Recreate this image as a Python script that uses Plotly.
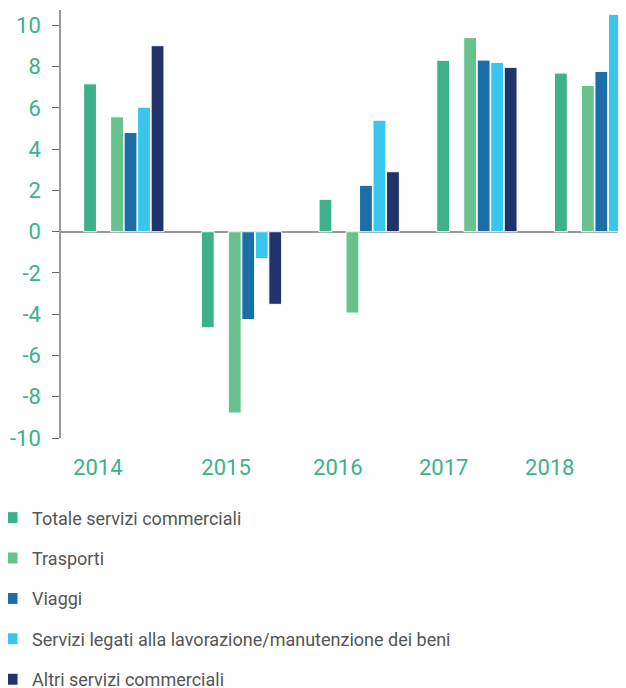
import plotly.graph_objects as go

years = [2014, 2015, 2016, 2017, 2018]
year_labels = ["2014", "2015", "2016", "2017", "2018"]

totale = [7.17, -4.66, 1.57, 8.31, 7.69]
trasporti = [5.57, -8.79, -3.94, 9.41, 7.09]
viaggi = [4.81, -4.26, 2.25, 8.32, 7.77]
servizi_beni = [6.04, -1.31, 5.41, 8.21, 10.54]
altri = [9.02, -3.52, 2.91, 7.97, 7.68]
vuoto = [None, None, None, None, None]

y_ticks = [-10, -8, -6, -4, -2, 0, 2, 4, 6, 8, 10]

# style / layout settings (page body has an 8px margin)
label_offsets = [-0.221, -0.131, -0.182, -0.282, -0.381]
TEAL = "#3db08c"
series = [
    ("Totale servizi commerciali", totale, "#3db08c", True),
    ("vuoto", vuoto, "#ffffff", False),
    ("Trasporti", trasporti, "#67c28d", True),
    ("Viaggi", viaggi, "#1c6ea8", True),
    ("Servizi legati alla lavorazione/manutenzione dei beni", servizi_beni, "#38c5ee", True),
    ("Altri servizi commerciali", altri, "#21336b", True),
]

fig = go.Figure()
for i, (name, vals, col, show) in enumerate(series):
    fig.add_trace(go.Bar(
        x=years, y=vals, name=name, showlegend=show, legendgroup="g%d" % i,
        marker=dict(color=col, line=dict(color="#ffffff", width=1)),
    ))

fig.update_layout(
    width=640, height=700,
    margin=dict(l=53, r=0, t=2, b=270, autoexpand=False),
    paper_bgcolor="white", plot_bgcolor="white",
    barmode="group", bargap=0.312, bargroupgap=0.05,
    font=dict(family="Roboto", color="#555555"),
    xaxis=dict(
        type="linear", range=[2013.4664, 2018.4537],
        tickmode="array",
        tickvals=[y + o for y, o in zip(years, label_offsets)],
        ticktext=year_labels,
        ticks="", showgrid=False, zeroline=False, showline=False,
        tickfont=dict(size=22, color=TEAL),
        ticklabelstandoff=14,
    ),
    yaxis=dict(
        range=[-10, 10.75], tickmode="array", tickvals=y_ticks,
        ticktext=[str(v) for v in y_ticks],
        ticks="outside", ticklen=7, tickcolor="#666666", tickwidth=1,
        showgrid=False, showline=True, linecolor="#999999", linewidth=1.5,
        zeroline=True, zerolinecolor="#999999", zerolinewidth=2,
        tickfont=dict(size=22, color=TEAL),
        ticklabelstandoff=7,
    ),
    legend=dict(
        orientation="v", x=-0.1175, xanchor="left", y=-0.1435, yanchor="top",
        font=dict(size=18, color="#555555"),
        tracegroupgap=14, traceorder="grouped",
        bgcolor="rgba(0,0,0,0)",
    ),
    showlegend=True,
)

fig.write_html("out.html")
